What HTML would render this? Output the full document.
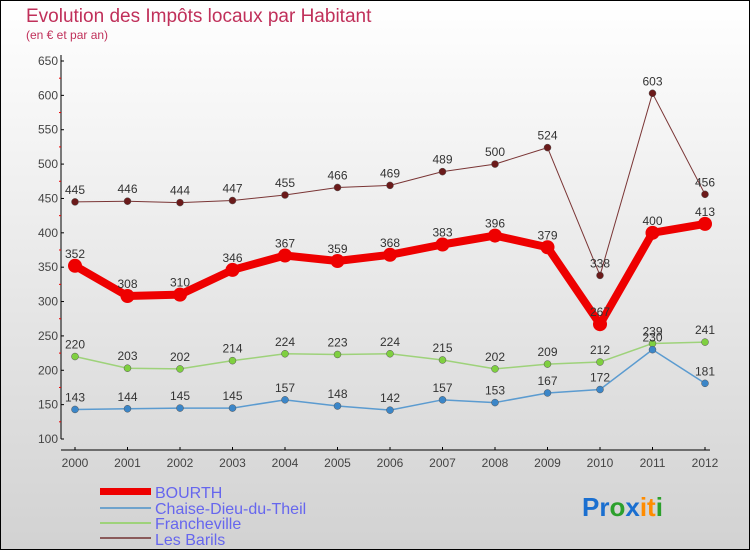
<!DOCTYPE html>
<html><head><meta charset="utf-8"><style>
html,body{margin:0;padding:0}
body{width:750px;height:550px;overflow:hidden;font-family:"Liberation Sans",sans-serif}
svg text{font-family:"Liberation Sans",sans-serif}
</style></head><body>
<svg width="750" height="550" xmlns="http://www.w3.org/2000/svg">
<defs><linearGradient id="bg" x1="0" y1="0" x2="0" y2="1"><stop offset="0" stop-color="#ffffff"/><stop offset="1" stop-color="#d2d2d2"/></linearGradient></defs>
<rect x="0.5" y="0.5" width="749" height="549" fill="url(#bg)" stroke="#000"/>
<text x="26" y="22" font-size="19" fill="#c0305a">Evolution des Impôts locaux par Habitant</text>
<text x="26" y="39" font-size="12" fill="#c0305a">(en € et par an)</text>
<g id="axes"></g>
<g id="series"></g>
<g>
<rect x="100" y="488" width="51" height="7" fill="#e00"/>
<line x1="100" y1="508" x2="151" y2="508" stroke="#6fa3cc" stroke-width="2"/>
<line x1="100" y1="523" x2="151" y2="523" stroke="#9ed27a" stroke-width="2"/>
<line x1="100" y1="538" x2="151" y2="538" stroke="#8a5a5a" stroke-width="2"/>
<text x="155" y="498" font-size="16" fill="#6666ee">BOURTH</text>
<text x="155" y="514" font-size="16" fill="#6666ee">Chaise-Dieu-du-Theil</text>
<text x="155" y="529" font-size="16" fill="#6666ee">Francheville</text>
<text x="155" y="545" font-size="16" fill="#6666ee">Les Barils</text>
</g>
<text x="582" y="516" font-size="26" font-weight="bold"><tspan fill="#1a6fd0">Pr</tspan><tspan fill="#2ca02c">o</tspan><tspan fill="#1a6fd0">x</tspan><tspan fill="#ff8c00">it</tspan><tspan fill="#2ca02c">i</tspan></text>
</svg>
<script>
const years=[2000,2001,2002,2003,2004,2005,2006,2007,2008,2009,2010,2011,2012];
const yTicks=[100,150,200,250,300,350,400,450,500,550,600,650];
const bourth=[352,308,310,346,367,359,368,383,396,379,267,400,413];
const chaise=[143,144,145,145,157,148,142,157,153,167,172,230,181];
const franch=[220,203,202,214,224,223,224,215,202,209,212,239,241];
const barils=[445,446,444,447,455,466,469,489,500,524,338,603,456];
const NS='http://www.w3.org/2000/svg';
const X=i=>75+i*(705-75)/(years.length-1);
const Y=v=>439-(v-100)*(439-61)/550;
function mk(t,a,p){const e=document.createElementNS(NS,t);for(const k in a)e.setAttribute(k,a[k]);(p||document.getElementById('series')).appendChild(e);return e;}
const ax=document.getElementById('axes');
let e=mk('line',{x1:61,y1:55,x2:61,y2:439,stroke:'#000'},ax);


e=mk('line',{x1:61,y1:450,x2:710,y2:450,stroke:'#000'},ax);


yTicks.forEach(v=>{mk('line',{x1:61,y1:Y(v),x2:64,y2:Y(v),stroke:'#000'},ax);
 if(v<650)mk('line',{x1:59,y1:Y(v+25),x2:61,y2:Y(v+25),stroke:'#e00'},ax);
 const t=mk('text',{x:58,y:Y(v)+4,'font-size':12,fill:'#444','text-anchor':'end'},ax);t.textContent=v;
 
 });
years.forEach((y,i)=>{mk('line',{x1:X(i),y1:447,x2:X(i),y2:450,stroke:'#000'},ax);
 const t=mk('text',{x:X(i),y:467,'font-size':12,fill:'#444','text-anchor':'middle'},ax);t.textContent=y;
 
 });
function series(d,name,col,dot,w,r){
 const p=mk('polyline',{points:d.map((v,i)=>X(i)+','+Y(v)).join(' '),fill:'none',stroke:col,'stroke-width':w,'stroke-linejoin':'round'});
 
 
 d.forEach((v,i)=>{const c=mk('circle',{cx:X(i),cy:Y(v),r:r,fill:dot,stroke:w>3?'none':'#555','stroke-width':0.5});
  
  
  const t=mk('text',{x:X(i),y:Y(v)-8,'font-size':12,fill:'#333','text-anchor':'middle'});t.textContent=v;
  
  });
}
series(barils,'les-barils','#7a3535','#6b1a1a',1,3.5);
series(franch,'francheville','#9ed27a','#7fd040',1.5,3.5);
series(chaise,'chaise-dieu','#5b9bd0','#3b86c8',1.5,3.5);
series(bourth,'bourth','#ee0000','#ee0000',8,7);
</script>
</body></html>
